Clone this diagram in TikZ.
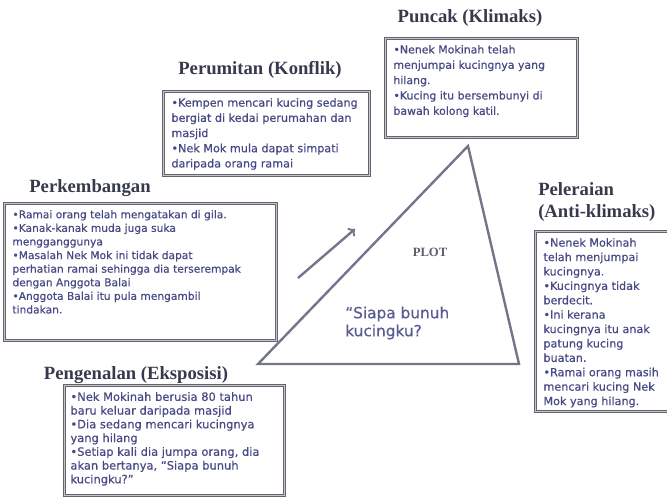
\documentclass[tikz,border=0pt]{standalone}
\usepackage{fontspec}
\setmainfont{Liberation Serif}
\newfontfamily\notefont[FakeBold=0.6]{DejaVu Sans}
\usetikzlibrary{arrows,positioning}
\usepackage{xcolor}

\definecolor{notetext}{RGB}{72,74,132}
\definecolor{titletext}{RGB}{55,58,76}
\definecolor{boxline}{RGB}{100,100,112}
\definecolor{plotline}{RGB}{115,117,138}

\newcommand{\notebox}[3]{\parbox[c][#2][t]{#1}{\raggedright #3}}

\begin{document}
\begin{tikzpicture}[x=0.75pt, y=-0.75pt, every node/.style={
    inner sep=0pt
},
plotbox/.style={
    draw=boxline,
    line width=0.7pt,
    double=gray!45,
    double distance=0.9pt,
    anchor=north west,
    inner xsep=6pt,
    inner ysep=5pt,
    font=\notefont\fontsize{8.2}{11.5}\selectfont,
    text=notetext
},
plottitle/.style={
    font=\fontsize{14}{16}\selectfont\bfseries,
    text=titletext
}]
    \useasboundingbox (0,0) rectangle (667,497);

    \node (puncak_title) [plottitle, shift={(470, 18)}]
    {
        Puncak (Klimaks)
    };
    \node (puncak_box) [plotbox, shift={(385, 38)}]
    {
        \notebox{132pt}{64pt}{•Nenek Mokinah telah\\ menjumpai kucingnya yang\\ hilang.\\ •Kucing itu bersembunyi di\\ bawah kolong katil.}
    };

    \node (perumitan_title) [plottitle, shift={(260, 70)}]
    {
        Perumitan (Konflik)
    };
    \node (perumitan_box) [plotbox, font=\notefont\fontsize{8.4}{11.4}\selectfont, shift={(163, 91)}]
    {
        \notebox{142.5pt}{53pt}{•Kempen mencari kucing sedang\\ bergiat di kedai perumahan dan\\ masjid\\ •Nek Mok mula dapat simpati\\ daripada orang ramai}
    };

    \node (perkembangan_title) [plottitle, shift={(90, 188)}]
    {
        Perkembangan
    };
    \node (perkembangan_box) [plotbox, font=\notefont\fontsize{8}{10.2}\selectfont, shift={(4, 203)}]
    {
        \notebox{192pt}{92.75pt}{•Ramai orang telah mengatakan di gila.\\ •Kanak-kanak muda juga suka\\ mengganggunya\\ •Masalah Nek Mok ini tidak dapat\\ perhatian ramai sehingga dia terserempak\\ dengan Anggota Balai\\ •Anggota Balai itu pula mengambil\\ tindakan.}
    };

    \node (pengenalan_title) [plottitle, shift={(136, 375)}]
    {
        Pengenalan (Eksposisi)
    };
    \node (pengenalan_box) [plotbox, font=\notefont\fontsize{8.6}{10.3}\selectfont, inner xsep=4.5pt, shift={(64, 385)}]
    {
        \notebox{156pt}{72.5pt}{•Nek Mokinah berusia 80 tahun\\ baru keluar daripada masjid\\ •Dia sedang mencari kucingnya\\ yang hilang\\ •Setiap kali dia jumpa orang, dia\\ akan bertanya, “Siapa bunuh\\ kucingku?”}
    };

    \node (peleraian_title) [plottitle, align=left, anchor=west, shift={(538, 202)}]
    {
        Peleraian\\ (Anti-klimaks)
    };
    \node (peleraian_box) [plotbox, font=\notefont\fontsize{8.4}{10.8}\selectfont, shift={(535, 231)}]
    {
        \notebox{90pt}{125pt}{•Nenek Mokinah\\ telah menjumpai\\ kucingnya.\\ •Kucingnya tidak\\ berdecit.\\ •Ini kerana\\ kucingnya itu anak\\ patung kucing\\ buatan.\\ •Ramai orang masih\\ mencari kucing Nek\\ Mok yang hilang.}
    };

    \coordinate (plot_top) at (468, 146);
    \coordinate (plot_left) at (258, 364);
    \coordinate (plot_right) at (519, 364);
    \draw[plotline, line width=1.8pt, line join=miter] (plot_top) -- (plot_left) -- (plot_right) -- cycle;

    \node (plot_label) [font=\fontsize{9.5}{10}\selectfont\bfseries, text=plotline!80!black, shift={(430, 252)}]
    {
        PLOT
    };
    \node (plot_question) [font=\notefont\fontsize{11.5}{13.5}\selectfont, text=notetext!90, align=left, anchor=west, shift={(345, 323)}]
    {
        “Siapa bunuh\\ kucingku?
    };

    \coordinate (rise_start) at (298, 278);
    \coordinate (rise_end) at (355, 229);
    \draw[->, plotline, line width=1.8pt] (rise_start) to (rise_end);

\end{tikzpicture}
\end{document}
